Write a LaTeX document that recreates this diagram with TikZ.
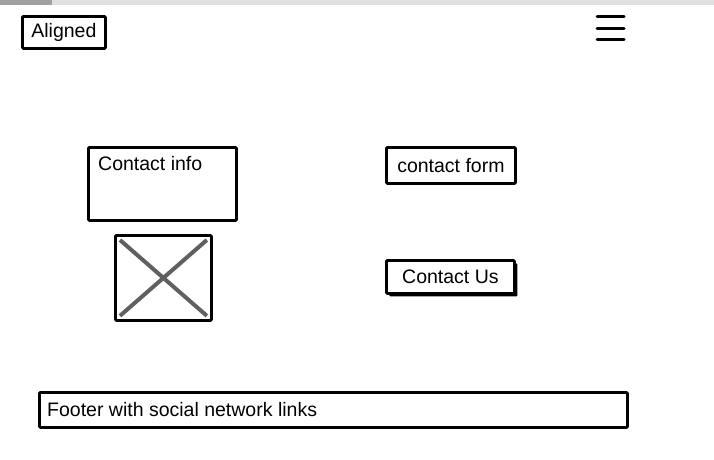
\documentclass[tikz,border=0pt]{standalone}
\usepackage{fontspec}
\setmainfont{Liberation Sans}
\usetikzlibrary{shadows}

\tikzstyle{box} = [draw, rectangle, line width=2.8pt, rounded corners=1pt, inner sep=0pt, fill=white]
\tikzstyle{label} = [inner sep=0pt, font=\fontsize{19.5}{22}\selectfont]
\tikzstyle{button} = [box, drop shadow={shadow xshift=3pt, shadow yshift=-3pt, opacity=1, fill=black}]
\tikzstyle{cross} = [draw, line width=4pt, color=crossgrey]
\definecolor{crossgrey}{RGB}{96,96,96}
\definecolor{bargrey}{RGB}{224,224,224}
\definecolor{tabgrey}{RGB}{160,160,160}

\begin{document}
\begin{tikzpicture}[x=1pt, y=-1pt]
  \useasboundingbox (0,0) rectangle (714,459);
  % browser strip
  \fill [bargrey] (0,0) rectangle (714,5);
  \fill [tabgrey] (0,0) rectangle (52,5);

  \node [box, minimum width=83pt, minimum height=32pt, anchor=north west] (logo) at (21,15) {};
  \node [label] (logotext) at (logo.center) {Aligned};

  % menu icon
  \draw [line width=3pt, line cap=round] (597,16) -- (624,16);
  \draw [line width=3pt, line cap=round] (597,28) -- (624,28);
  \draw [line width=3pt, line cap=round] (597,39) -- (624,39);

  \node [box, minimum width=148pt, minimum height=73pt, anchor=north west] (info) at (87,146) {};
  \node [label, anchor=base west] (infotext) at (98,170) {Contact info};

  \node [box, minimum width=96pt, minimum height=85pt, anchor=north west] (image) at (114,234) {};
  \draw [cross] ([shift={(6pt,-6pt)}]image.north west) -- ([shift={(-6pt,6pt)}]image.south east);
  \draw [cross] ([shift={(-6pt,-6pt)}]image.north east) -- ([shift={(6pt,6pt)}]image.south west);

  \node [box, minimum width=129pt, minimum height=36pt, anchor=north west] (form) at (385,146) {};
  \node [label] (formtext) at (form.center) {contact form};

  \node [button, minimum width=128pt, minimum height=33pt, anchor=north west] (send) at (385,259) {};
  \node [label] (sendtext) at (send.center) {Contact Us};

  \node [box, minimum width=588pt, minimum height=35pt, anchor=north west] (footer) at (38,391) {};
  \node [label, anchor=west] (footertext) at ([xshift=9pt]footer.west) {Footer with social network links};
\end{tikzpicture}
\end{document}
